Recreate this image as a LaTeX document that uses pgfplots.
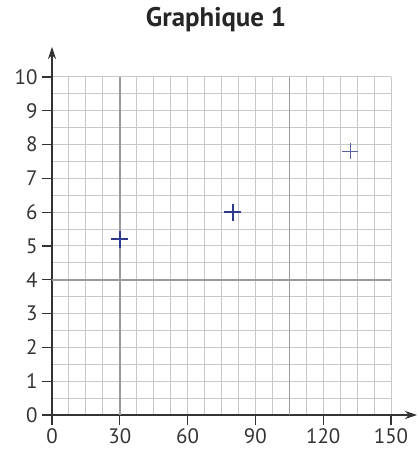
\documentclass[border=0pt]{standalone}
\usepackage{pgfplots}
\pgfplotsset{compat=1.18}
\usetikzlibrary{arrows.meta}
\usepackage{fontspec}
\setmainfont{PT Sans}
\definecolor{gridgray}{HTML}{C8C8C8}
\definecolor{darkgrid}{HTML}{9A9A9A}
\definecolor{axisgray}{HTML}{333333}
\definecolor{markblue}{HTML}{2E3A8C}
\begin{document}
\begin{tikzpicture}
\useasboundingbox (-52bp,-35bp) rectangle (367bp,415bp);
\begin{axis}[
    anchor=origin, at={(0,0)},
    scale only axis,
    width=339bp, height=338bp,
    xmin=0, xmax=150, ymin=0, ymax=10,
    axis lines=left,
    axis line style={axisgray, line width=1.1bp, -{Stealth[length=12bp,width=8bp]}},
    x axis line style={shorten >=-26bp},
    y axis line style={shorten >=-30bp},
    xtick={0,30,...,150},
    ytick={0,1,...,10},
    minor x tick num=3,
    minor y tick num=1,
    grid=both,
    major grid style={gridgray, line width=1bp},
    minor grid style={gridgray, line width=1bp},
    tick align=outside,
    major tick length=10bp,
    minor tick length=0pt,
    tick style={axisgray, line width=1.1bp},
    tick label style={font=\fontsize{21}{21}\selectfont, text=axisgray},
    /pgf/number format/assume math mode=true,
    xticklabel style={yshift=0bp},
    yticklabel style={xshift=-1bp},
    title={\textbf{Graphique 1}},
    title style={at={(axis description cs:0.484,1)}, anchor=base, yshift=45bp,
        font=\fontsize{27}{27}\selectfont, text=black!85},
    clip=false,
]
\addplot[darkgrid, line width=1.6bp] coordinates {(30,0) (30,10)};
\addplot[darkgrid, line width=1.6bp] coordinates {(105,0) (105,10)};
\addplot[darkgrid, line width=1.6bp] coordinates {(0,4) (150,4)};
\addplot[only marks, mark=+, mark size=8.5bp, mark options={markblue, line width=1.7bp}]
    coordinates {(30,5.2) (80,6.0)};
\addplot[only marks, mark=+, mark size=8bp, mark options={markblue!80, line width=1bp}]
    coordinates {(132,7.8)};
\end{axis}
\end{tikzpicture}
\end{document}
